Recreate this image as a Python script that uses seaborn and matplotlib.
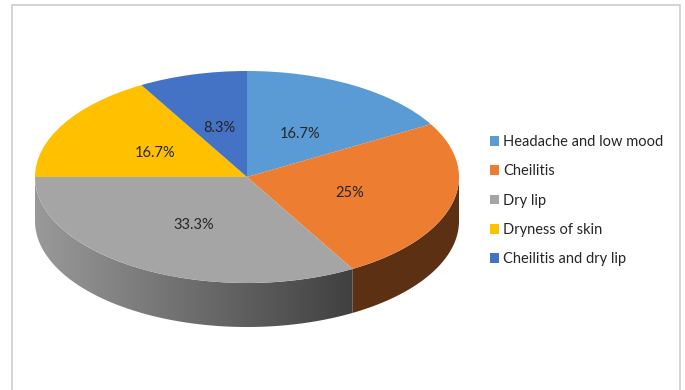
import numpy as np
import matplotlib
matplotlib.use("Agg")
import matplotlib.pyplot as plt
from matplotlib.patches import Rectangle, Polygon
import seaborn as sns

categories = ["Headache and low mood", "Cheilitis", "Dry lip", "Dryness of skin", "Cheilitis and dry lip"]
values = [16.7, 25, 33.3, 16.7, 8.3]
colors = ["#5B9BD5", "#ED7D31", "#A5A5A5", "#FFC000", "#4472C4"]

sns.set_theme(style="white")
plt.rcParams["font.family"] = ["Lato", "DejaVu Sans"]
palette = sns.color_palette(colors)

W, H = 685, 390
fig = plt.figure(figsize=(W / 100, H / 100), dpi=100, facecolor="white")
fig.add_artist(Rectangle((12.5 / W, -0.05), 667.5 / W, 1.05 - 5.5 / H, transform=fig.transFigure,
                         facecolor="white", edgecolor="#C9C9C9", linewidth=1.1, zorder=-5))

# pie disc: top face spans x 35-459, y 71-283 px; tilted to half height
ax = fig.add_axes([35 / W, (H - 283) / H, 424 / W, 212 / H], zorder=2)
wedges, _, autotexts = ax.pie(values, colors=palette, startangle=90, counterclock=False, radius=1,
                              autopct=lambda p: f"{round(p, 1):g}%", pctdistance=0.5,
                              wedgeprops=dict(linewidth=0),
                              textprops=dict(fontsize=10.5, color="#262626"))
for w in wedges:
    w.set_clip_on(False)
    w.set_zorder(2)
for t in autotexts:
    t.set_zorder(3)
    px, py = t.get_position()
    t.set_position((px, py - 2.5 / 106))

# extruded wall on the front half of the disc, shaded left to right
depth = 44 / 106
cum = np.cumsum([0] + values) / sum(values) * 360
grad_x = np.linspace(-1, 1, 424)
shade = 0.93 - 0.54 * np.clip((grad_x + 1) / 1.495, 0, 1)
for i, col in enumerate(palette):
    a0, a1 = max(cum[i], 90), min(cum[i + 1], 270)
    if a1 <= a0:
        continue
    th = np.radians(np.linspace(a0, a1, 200))
    xs, ys = np.sin(th), np.cos(th)
    poly = Polygon(np.r_[np.c_[xs, ys], np.c_[xs, ys - depth][::-1]], closed=True,
                   transform=ax.transData, facecolor="none", edgecolor="none")
    rgb = np.outer(shade, np.array(col))[None, :, :]
    im = ax.imshow(rgb, extent=(-1, 1, -1 - depth, 1), aspect="auto", zorder=1,
                   interpolation="bilinear")
    im.set_clip_box(fig.bbox)
    im.set_clip_path(poly)

ax.set_aspect("auto")
ax.set_xlim(-1, 1)
ax.set_ylim(-1, 1)

leg = fig.legend(wedges, categories, loc="upper left", bbox_to_anchor=(490 / W, 1 - 135 / H),
                 frameon=False, fontsize=10.5, handlelength=0.62, handleheight=0.62,
                 handletextpad=0.27, labelspacing=1.05, borderpad=0, borderaxespad=0,
                 labelcolor="#262626")

fig.savefig("out.png", dpi=100)
